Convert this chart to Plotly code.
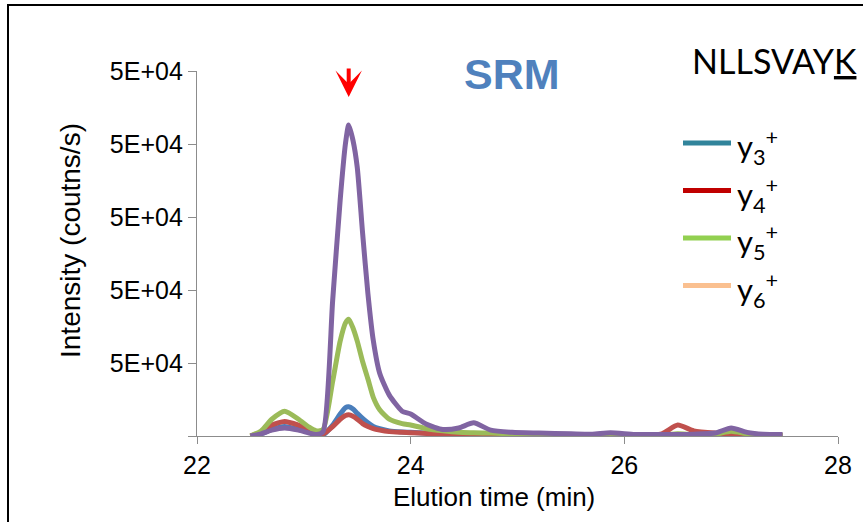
import plotly.graph_objects as go

# ---------------- data ----------------
time_min = [22.5, 22.6, 22.7, 22.82, 22.95, 23.05, 23.12, 23.18, 23.27, 23.34, 23.39, 23.42,
            23.46, 23.5, 23.55, 23.6, 23.65, 23.71, 23.8, 23.92, 24.0, 24.15, 24.3, 24.45,
            24.59, 24.75, 24.95, 25.2, 25.5, 25.7, 25.87, 26.1, 26.35, 26.5, 26.65, 26.85,
            27.0, 27.15, 27.3, 27.48]

y3 = [0, 300, 900, 1300, 900, 500, 200, 150, 1500, 3000, 3900, 4000,
      3700, 3100, 2400, 1800, 1300, 1000, 700, 550, 500, 400, 300, 200,
      200, 150, 150, 100, 100, 100, 100, 100, 100, 100, 100, 100,
      150, 100, 100, 100]

y4 = [0, 500, 1500, 2000, 1500, 900, 500, 300, 1300, 2300, 2800, 2900,
      2700, 2300, 1700, 1300, 1000, 800, 600, 500, 450, 350, 250, 200,
      200, 150, 150, 100, 100, 100, 100, 100, 300, 1500, 700, 400,
      300, 200, 100, 100]

y5 = [0, 700, 2300, 3400, 2300, 1200, 700, 900, 7500, 13000, 15500, 16000,
      14800, 13000, 10200, 7800, 5300, 3600, 2300, 1700, 1500, 1000, 700, 500,
      450, 400, 300, 250, 200, 150, 200, 150, 150, 300, 200, 250,
      650, 300, 150, 100]

y6 = [0, 300, 800, 1100, 800, 400, 200, 600, 18600, 32300, 40100, 42600,
      40500, 36800, 27800, 19500, 13100, 8600, 5600, 3400, 3000, 1600, 900, 1100,
      1800, 800, 500, 400, 300, 250, 450, 200, 200, 200, 250, 400,
      1100, 500, 250, 200]

series_names = ["y3+", "y4+", "y5+", "y6+"]
series_values = [y3, y4, y5, y6]
plot_colors = ["#4a7ebb", "#c0504d", "#9bbb59", "#8064a2"]

legend_labels = ["y<sub>3</sub><sup>+</sup>", "y<sub>4</sub><sup>+</sup>",
                 "y<sub>5</sub><sup>+</sup>", "y<sub>6</sub><sup>+</sup>"]
legend_colors = ["#31849b", "#c00000", "#92d050", "#fac090"]

x_ticks = [22, 24, 26, 28]
y_ticks = [0, 10000, 20000, 30000, 40000, 50000]
y_ticktext = ["", "5E+04", "5E+04", "5E+04", "5E+04", "5E+04"]

peak_time = 23.42

# ---------------- figure ----------------
W, H = 863, 522
L, R, T, B = 197, 25, 71, 86
pw, ph = W - L - R, H - T - B


def px_x(px):
    return (px - L) / pw


def px_y(py):
    return (H - B - py) / ph


fig = go.Figure()
for name, vals, col in zip(series_names, series_values, plot_colors):
    fig.add_trace(go.Scatter(x=time_min, y=vals, mode="lines", name=name,
                             line=dict(color=col, width=5, shape="spline", smoothing=0.6),
                             showlegend=False, hoverinfo="x+y+name"))

axis_font = dict(family="Liberation Sans, Arial", size=25, color="black")

fig.update_layout(
    width=W, height=H,
    margin=dict(l=L, r=R, t=T, b=B),
    paper_bgcolor="white", plot_bgcolor="white",
    showlegend=False,
    xaxis=dict(range=[22, 28], tickvals=x_ticks, ticktext=[str(v) for v in x_ticks],
               showline=True, linecolor="#8c8c8c", linewidth=1.3,
               ticks="outside", ticklen=7, tickcolor="#8c8c8c", tickwidth=1.3,
               showgrid=False, zeroline=False, tickfont=axis_font),
    yaxis=dict(range=[0, 50000], tickvals=y_ticks, ticktext=y_ticktext,
               showline=True, linecolor="#8c8c8c", linewidth=1.3,
               ticks="outside", ticklen=8, tickcolor="#8c8c8c", tickwidth=1.3,
               showgrid=False, zeroline=False, tickfont=axis_font),
)

shapes = []
annotations = []

# outer frame
shapes.append(dict(type="rect", xref="paper", yref="paper",
                   x0=px_x(8), x1=px_x(875), y0=px_y(535), y1=px_y(5),
                   line=dict(color="black", width=2), fillcolor="rgba(0,0,0,0)"))

# axis titles
annotations.append(dict(text="Elution time (min)", xref="paper", yref="paper",
                        x=px_x(494), y=px_y(497), xanchor="center", yanchor="middle",
                        showarrow=False,
                        font=dict(family="Liberation Sans, Arial", size=26, color="black")))
annotations.append(dict(text="Intensity (coutns/s)", xref="paper", yref="paper",
                        x=px_x(70), y=px_y(240), xanchor="center", yanchor="middle",
                        textangle=-90, showarrow=False,
                        font=dict(family="Liberation Sans, Arial", size=28, color="black")))

# SRM title
annotations.append(dict(text="<b>SRM</b>", xref="paper", yref="paper",
                        x=px_x(512), y=px_y(74), xanchor="center", yanchor="middle",
                        showarrow=False,
                        font=dict(family="Liberation Sans, Arial", size=43, color="#4f81bd")))

# peptide label
annotations.append(dict(text="NLLSVAY<span style='text-decoration:underline'>K</span>",
                        xref="paper", yref="paper",
                        x=px_x(690), y=px_y(60), xanchor="left", yanchor="middle",
                        showarrow=False,
                        font=dict(family="Lato", size=34, color="black")))

# red arrow over peak
annotations.append(dict(text="", x=peak_time, xref="x", y=px_y(97), yref="paper",
                        showarrow=True, arrowhead=3, arrowsize=1.1, arrowwidth=4,
                        arrowcolor="#ff0000", ax=0, ay=-30))

# manual legend
leg_y0, leg_dy = 143, 47.5
for i, (lab, col) in enumerate(zip(legend_labels, legend_colors)):
    yy = leg_y0 + i * leg_dy
    shapes.append(dict(type="line", xref="paper", yref="paper",
                       x0=px_x(683), x1=px_x(731), y0=px_y(yy), y1=px_y(yy),
                       line=dict(color=col, width=5)))
    annotations.append(dict(text=lab, xref="paper", yref="paper",
                            x=px_x(735), y=px_y(yy + 4), xanchor="left", yanchor="middle",
                            showarrow=False,
                            font=dict(family="Lato", size=31, color="black")))

fig.update_layout(shapes=shapes, annotations=annotations)

fig.write_html("out.html")
